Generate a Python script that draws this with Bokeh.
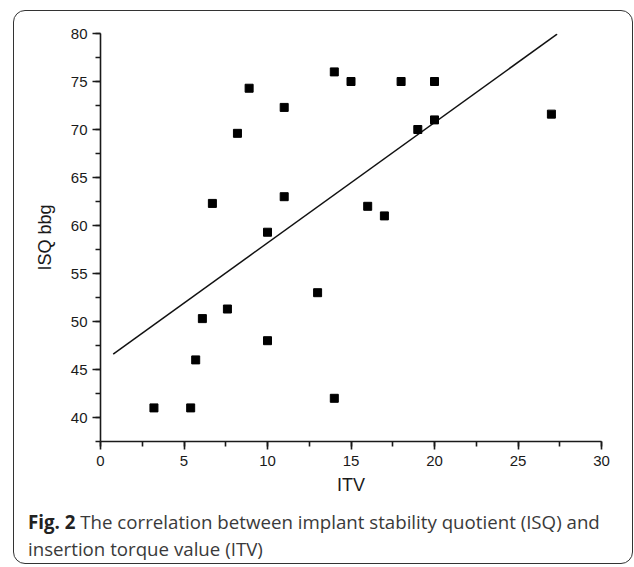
from bokeh.plotting import figure
from bokeh.models import Range1d, SingleIntervalTicker, Div
from bokeh.layouts import column
from bokeh.embed import file_html
from bokeh.resources import INLINE

# ---- data ----
itv = [3.2, 5.4, 5.7, 6.1, 6.7, 7.6, 8.2, 8.9, 10, 10, 11, 11, 13, 14, 14,
       15, 16, 17, 18, 19, 20, 20, 27]
isq = [41, 41, 46, 50.3, 62.3, 51.3, 69.6, 74.3, 59.3, 48, 72.3, 63, 53, 76, 42,
       75, 62, 61, 75, 70, 75, 71, 71.6]
fit_x = [0.76, 27.34]
fit_y = [46.6, 79.93]

x_label = "ITV"
y_label = "ISQ bbg"
cap_bold = "Fig. 2"
cap_line1 = "The correlation between implant stability quotient (ISQ) and"
cap_line2 = "insertion torque value (ITV)"

p = figure(width=618, height=493, output_backend="svg", toolbar_location=None,
           x_range=Range1d(0, 30), y_range=Range1d(37.5, 80),
           min_border_left=86, min_border_right=31, min_border_top=22,
           min_border_bottom=63)
p.outline_line_color = None
p.grid.visible = False
p.background_fill_color = None
p.border_fill_color = None

for ax in (p.xaxis[0], p.yaxis[0]):
    ax.ticker = SingleIntervalTicker(interval=5, num_minor_ticks=2)
    ax.axis_line_color = "#1a1a1a"
    ax.axis_line_width = 1.6
    ax.major_tick_line_color = "#1a1a1a"
    ax.major_tick_line_width = 1.6
    ax.minor_tick_line_color = "#1a1a1a"
    ax.minor_tick_line_width = 1.6
    ax.major_tick_in = 0
    ax.major_tick_out = 8
    ax.minor_tick_in = 0
    ax.minor_tick_out = 5
    ax.major_label_text_font = "Liberation Sans"
    ax.major_label_text_font_size = "15px"
    ax.major_label_text_color = "#1a1a1a"
    ax.axis_label_text_font = "Liberation Sans"
    ax.axis_label_text_font_size = "18px"
    ax.axis_label_text_font_style = "normal"
    ax.axis_label_text_color = "#1a1a1a"

p.xaxis.axis_label = x_label
p.yaxis.axis_label = y_label
p.xaxis.major_label_standoff = 6
p.yaxis.major_label_standoff = 5
p.xaxis.axis_label_standoff = 6
p.yaxis.axis_label_standoff = 13

p.line(fit_x, fit_y, line_color="#111111", line_width=1.5)
p.scatter(itv, isq, marker="square", size=8, fill_color="black", line_color="black")

caption_html = (
    '<div style="font-family:\'Open Sans\';font-size:18.7px;line-height:27px;'
    'color:#3a3a3a;white-space:nowrap;padding:4px 0 0 14px;">'
    f'<b style="color:#222222;">{cap_bold}</b> {cap_line1}<br>{cap_line2}</div>'
)
cap = Div(text=caption_html, width=618, height=59, margin=(0, 0, 0, 0))

card = column(p, cap, spacing=0, margin=(10, 0, 0, 13),
              styles={"border": "1.5px solid #333333", "border-radius": "12px",
                      "overflow": "hidden", "background-color": "white",
                      "box-sizing": "content-box"})

open("out.html", "w").write(file_html(card, INLINE))
